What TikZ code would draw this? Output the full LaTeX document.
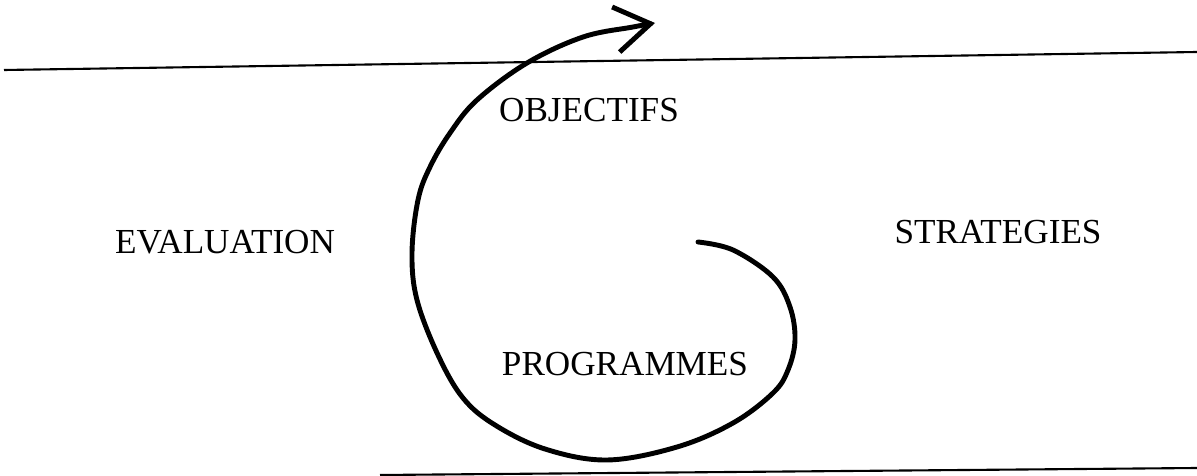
\documentclass[tikz,border=0pt]{standalone}
\usepackage{fontspec}
\setmainfont{Liberation Serif}
\usetikzlibrary{arrows.meta}
\tikzset{
  word/.style={inner sep=0pt,font=\fontsize{20}{23}\selectfont,text=black},
  rule/.style={draw=black,line width=1.2pt},
  spiral/.style={draw=black,line width=2.8pt,line cap=round,line join=round,
                 -{Straight Barb[length=20pt,width=26pt,line width=2.8pt]}}
}
\begin{document}
\begin{tikzpicture}[x=0.02cm,y=-0.02cm]
    \path[use as bounding box] (0,0) rectangle (1197,476);
    % the two strokes of the page
    \draw[rule] (4,70) -- (1197,52);
    \draw[rule] (380,475) -- (1197,468);
    % the four steps
    \node[word] (obj) at (589,110) {OBJECTIFS};
    \node[word] (eval) at (225,242) {EVALUATION};
    \node[word] (strat) at (998,232) {STRATEGIES};
    \node[word] (prog) at (625,364) {PROGRAMMES};
    % the spiral, from the inside out
    \coordinate (spiralin) at (698,242);
    \coordinate (spiralout) at (655,23);
    \draw[spiral] plot[smooth,tension=0.6] coordinates {(spiralin) (733,250)
      (773,277) (790,307) (795,340) (788,370) (773,393) (733,423) (677,447)
      (607,460) (545,449) (495,425) (463,398) (438,355) (417,300)
      (412,253) (418,200) (430,167) (450,133) (477,100) (527,63) (583,37)
      (633,27) (spiralout)};
  \end{tikzpicture}
\end{document}
